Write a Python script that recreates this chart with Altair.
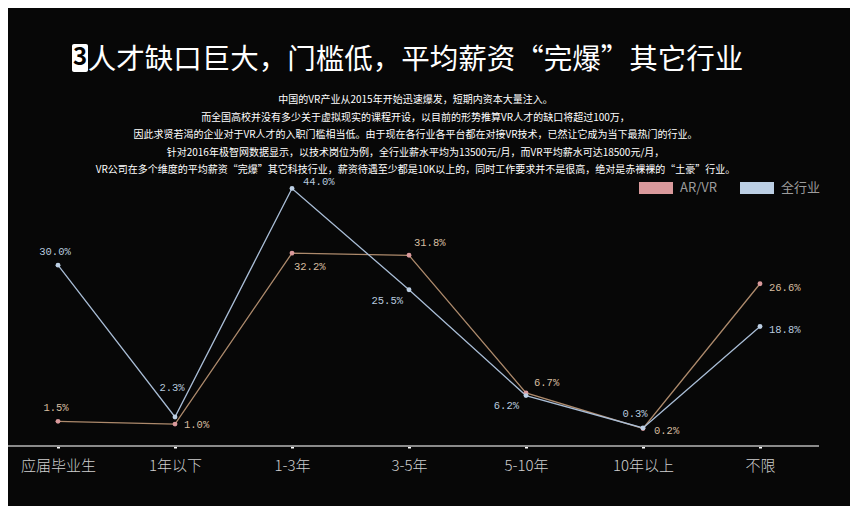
import altair as alt
import pandas as pd

categories = ["应届毕业生", "1年以下", "1-3年", "3-5年", "5-10年", "10年以上", "不限"]
series_names = ["AR/VR", "全行业"]
arvr_values = [1.5, 1.0, 32.2, 31.8, 6.7, 0.2, 26.6]
all_values = [30.0, 2.3, 44.0, 25.5, 6.2, 0.3, 18.8]

title_text = "人才缺口巨大，门槛低，平均薪资“完爆”其它行业"
subtitle_lines = [
    "中国的VR产业从2015年开始迅速爆发，短期内资本大量注入。",
    "而全国高校并没有多少关于虚拟现实的课程开设，以目前的形势推算VR人才的缺口将超过100万，",
    "因此求贤若渴的企业对于VR人才的入职门槛相当低。由于现在各行业各平台都在对接VR技术，已然让它成为当下最热门的行业。",
    "针对2016年极智网数据显示，以技术岗位为例，全行业薪水平均为13500元/月，而VR平均薪水可达18500元/月，",
    "VR公司在多个维度的平均薪资“完爆”其它科技行业，薪资待遇至少都是10K以上的，同时工作要求并不是很高，绝对是赤裸裸的“土豪”行业。",
]

rows = []
for c, a, b in zip(categories, arvr_values, all_values):
    rows.append({"cat": c, "series": "AR/VR", "value": a})
    rows.append({"cat": c, "series": "全行业", "value": b})
df = pd.DataFrame(rows)

W, H = 811, 268
x_enc = alt.X("cat:N", sort=categories,
              scale=alt.Scale(type="point", range=[50, 752], padding=0),
              axis=alt.Axis(title=None, domain=False, grid=False, labelAngle=0,
                            labelFont="Noto Sans CJK SC", labelFontSize=15,
                            labelColor="#cfcfcf", labelFontWeight=300,
                            labelPadding=10, tickSize=2, tickWidth=3,
                            tickColor="#ffffff"))
y_enc = alt.Y("value:Q", scale=alt.Scale(domain=[-3, 45.9], zero=False, nice=False),
              axis=None)

base = alt.Chart(df)

axis_line = alt.Chart(alt.Data(values=[{"k": 1}])).mark_rule(
    color="#8a8a8a", strokeWidth=2).encode(
    x=alt.value(0), x2=alt.value(W), y=alt.value(H))

line_colors = {"AR/VR": "#ad8a6c", "全行业": "#a9bdd6"}
line_layers = [
    base.transform_filter(alt.datum.series == s)
    .mark_line(strokeWidth=1.3, color=line_colors[s])
    .encode(x=x_enc, y=y_enc)
    for s in series_names
]

shape_path = "M-1,-0.36H1V0.36H-1Z"
points = base.mark_circle(size=24, opacity=1).encode(
    x=x_enc, y=y_enc,
    color=alt.Color("series:N",
                    scale=alt.Scale(domain=series_names, range=["#d9999b", "#bccfe4"]),
                    legend=alt.Legend(title=None, orient="none", legendX=631, legendY=-7,
                                      direction="horizontal", symbolType=shape_path,
                                      symbolSize=1156, symbolStrokeWidth=0,
                                      labelFont="Noto Sans CJK SC", labelFontSize=13,
                                      labelColor="#9c9c9c",
                                      labelOffset=7, columnPadding=23)))

placement = {
    ("全行业", "应届毕业生"): (-3, -13, "center"),
    ("全行业", "1年以下"): (-3, -29, "center"),
    ("全行业", "1-3年"): (11, -6, "left"),
    ("全行业", "3-5年"): (-6, 11, "right"),
    ("全行业", "5-10年"): (-7, 10, "right"),
    ("全行业", "10年以上"): (-8, -14, "center"),
    ("全行业", "不限"): (9, 3, "left"),
    ("AR/VR", "应届毕业生"): (-2, -13, "center"),
    ("AR/VR", "1年以下"): (9, 1, "left"),
    ("AR/VR", "1-3年"): (2, 14, "left"),
    ("AR/VR", "3-5年"): (5, -12, "left"),
    ("AR/VR", "5-10年"): (8, -10, "left"),
    ("AR/VR", "10年以上"): (11, 3, "left"),
    ("AR/VR", "不限"): (9, 4, "left"),
}
label_colors = {"AR/VR": "#d8bea0", "全行业": "#b8cadf"}

label_layers = []
for (s, c), (dx, dy, al) in placement.items():
    label_layers.append(
        base.transform_filter((alt.datum.series == s) & (alt.datum.cat == c))
        .transform_calculate(label="format(datum.value, '.1f') + '%'")
        .mark_text(dx=dx, dy=dy, align=al, baseline="middle",
                   font="Liberation Mono", fontSize=10.5, color=label_colors[s])
        .encode(x=x_enc, y=y_enc, text="label:N"))

badge_box = alt.Chart(alt.Data(values=[{"k": 1}])).mark_rect(
    color="#ffffff", cornerRadius=2).encode(
    x=alt.value(64), x2=alt.value(80), y=alt.value(-134), y2=alt.value(-106))
badge_text = alt.Chart(alt.Data(values=[{"k": "3"}])).mark_text(
    font="Noto Sans CJK SC", fontSize=24, fontWeight="bold", color="#000000",
    align="center", baseline="middle").encode(
    x=alt.value(72), y=alt.value(-120), text="k:N")

chart = alt.layer(axis_line, *line_layers, points, *label_layers, badge_box, badge_text).properties(
    width=W, height=H,
    padding={"left": 0, "top": 170, "right": 31, "bottom": 60},
    autosize=alt.AutoSizeParams(type="none"),
    background="#070707",
    title=alt.TitleParams(
        text=title_text, subtitle=subtitle_lines,
        anchor="middle", dx=2, offset=-131,
        font="Noto Sans CJK SC", fontSize=28.5, fontWeight=400, color="#ffffff",
        subtitleFont="Noto Sans CJK SC", subtitleFontSize=10, subtitleColor="#ffffff",
        subtitleLineHeight=17.5, subtitlePadding=21, subtitleFontWeight=400),
).configure_view(stroke=None)

chart.save("out.html", embed_options={"renderer": "svg", "actions": False})
